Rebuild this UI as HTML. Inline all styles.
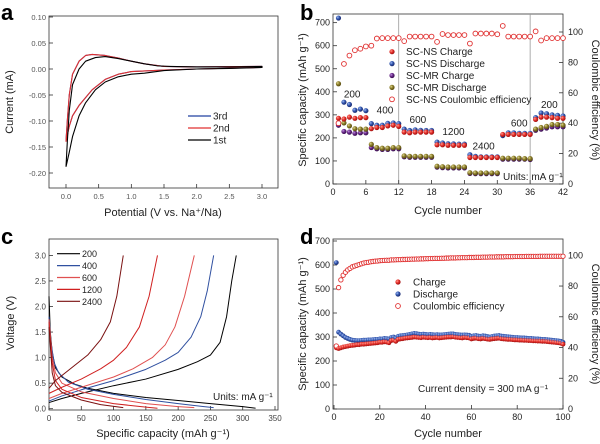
<!DOCTYPE html>
<html><head><meta charset="utf-8"><style>
html,body{margin:0;padding:0;background:#fff;width:600px;height:444px;overflow:hidden}
svg{display:block;font-family:"Liberation Sans",Arial,sans-serif}
</style></head><body>
<svg id="fig" width="600" height="444" viewBox="0 0 600 444" xmlns="http://www.w3.org/2000/svg">
<defs>
<radialGradient id="gRed" cx="35%" cy="35%" r="65%"><stop offset="0" stop-color="#ff9a90"/><stop offset="0.5" stop-color="#e5302a"/><stop offset="1" stop-color="#a01010"/></radialGradient>
<radialGradient id="gBlue" cx="35%" cy="35%" r="65%"><stop offset="0" stop-color="#a0b8f0"/><stop offset="0.5" stop-color="#3358b0"/><stop offset="1" stop-color="#1a2a70"/></radialGradient>
<radialGradient id="gPur" cx="35%" cy="35%" r="65%"><stop offset="0" stop-color="#c090e0"/><stop offset="0.5" stop-color="#6a2a8a"/><stop offset="1" stop-color="#3a1050"/></radialGradient>
<radialGradient id="gOl" cx="35%" cy="35%" r="65%"><stop offset="0" stop-color="#e0d890"/><stop offset="0.5" stop-color="#8b7d2a"/><stop offset="1" stop-color="#5a4d10"/></radialGradient>
</defs>
</svg>
<script>
// ---------- Panel a data (CV) ----------
const cvV1 = [0.0,0.02,0.05,0.1,0.2,0.3,0.45,0.6,0.8,1.0,1.2,1.4,1.6,2.0,2.5,3.0,3.0,2.5,2.0,1.5,1.2,1.0,0.8,0.6,0.45,0.3,0.2,0.1,0.05,0.0];
const cvI1 = [-0.188,-0.14,-0.08,-0.03,0.0,0.015,0.022,0.024,0.02,0.015,0.01,0.006,0.005,0.004,0.004,0.005,0.003,0.001,0.0,-0.003,-0.008,-0.01,-0.015,-0.025,-0.04,-0.065,-0.09,-0.13,-0.16,-0.188];
const cvV2 = [0.0,0.02,0.05,0.1,0.2,0.3,0.4,0.6,0.8,1.0,1.2,1.5,2.0,3.0,3.0,2.0,1.5,1.0,0.8,0.6,0.4,0.2,0.1,0.05,0.0];
const cvI2 = [-0.14,-0.1,-0.05,-0.01,0.015,0.026,0.028,0.026,0.021,0.015,0.01,0.005,0.004,0.005,0.003,0.0,-0.002,-0.005,-0.01,-0.02,-0.04,-0.07,-0.09,-0.11,-0.14];
const cvI3 = [-0.138,-0.099,-0.05,-0.01,0.015,0.026,0.028,0.026,0.021,0.015,0.01,0.005,0.004,0.005,0.003,0.0,-0.002,-0.005,-0.01,-0.02,-0.04,-0.07,-0.09,-0.11,-0.138];
const aXTicks = [0,0.5,1.0,1.5,2.0,2.5,3.0];
const aYTicks = [-0.20,-0.15,-0.10,-0.05,0.00,0.05,0.10];

// ---------- Panel b data (rate) ----------
const bCycles = Array.from({length:42},(_,i)=>i+1);
const nsCharge = [285,282,290,285,288,288,240,245,245,252,255,250,225,222,225,225,225,225,170,170,168,168,168,168,115,115,115,115,115,115,215,215,215,215,215,215,280,290,290,288,285,285];
const nsDischarge = [720,355,345,320,325,318,262,255,255,263,265,262,238,232,235,233,232,232,182,178,175,174,173,173,127,120,118,118,118,118,210,222,222,220,220,220,288,308,305,300,298,295];
const mrCharge = [255,228,225,220,222,222,158,153,150,150,153,153,118,116,116,116,116,116,73,71,70,70,70,70,46,45,45,45,45,45,108,108,108,108,108,106,233,238,243,248,248,248];
const mrDischarge = [435,265,252,240,238,238,172,158,155,155,158,158,122,120,120,120,120,120,77,75,74,74,74,74,49,48,48,48,48,48,112,112,112,112,110,110,238,245,250,258,258,255];
const nsCE = [40,79,84.5,88,89,90.5,91,95.7,96,96,96,96,94,97,97,97,97,97,93.5,98.7,98,98,98,98,92.4,99,99,99,99,98.5,104,97,97,97,97,97,100.4,94.4,96,96,96,96];
const bXTicks = [0,6,12,18,24,30,36,42];
const bYTicks = [0,100,200,300,400,500,600,700];
const bRTicks = [0,20,40,60,80,100];
const rateLabels = ["200","400","600","1200","2400","600","200"];
const rateLabelX = [3.5,9.5,15.5,22,27.5,34,39.5];
const rateLabelY = [375,305,265,213,150,250,330];

// ---------- Panel c data (voltage profiles) ----------
const cRates = ["200","400","600","1200","2400"];
const cChgCap = [[0,20,50,100,150,200,230,250,265,275,283,290],[0,20,50,100,150,180,200,220,235,245,255],[0,20,50,100,130,160,180,195,210,225],[0,20,50,80,100,120,140,155,168],[0,10,30,60,80,95,105,115]];
const cChgV = [[0.12,0.2,0.3,0.45,0.58,0.77,0.92,1.05,1.3,1.8,2.5,3.0],[0.15,0.25,0.37,0.55,0.77,0.95,1.1,1.4,1.8,2.3,3.0],[0.2,0.3,0.42,0.62,0.78,1.0,1.25,1.6,2.2,3.0],[0.3,0.42,0.58,0.78,0.95,1.2,1.6,2.2,3.0],[0.4,0.55,0.75,1.05,1.35,1.7,2.2,3.0]];
const cDisCap = [[0,2,5,10,20,40,60,100,150,200,250,300,320],[0,3,8,15,30,60,100,150,200,240,255],[0,5,10,20,50,100,150,200,225],[0,5,10,20,50,100,150,168],[0,5,10,20,50,80,115]];
const cDisV = [[2.2,1.5,1.1,0.8,0.62,0.48,0.4,0.3,0.22,0.16,0.1,0.04,0.01],[1.8,1.3,0.9,0.7,0.52,0.38,0.28,0.18,0.1,0.04,0.02],[1.75,1.0,0.7,0.5,0.33,0.2,0.1,0.04,0.02],[1.7,0.9,0.55,0.38,0.22,0.1,0.03,0.01],[1.6,0.7,0.45,0.32,0.17,0.08,0.02]];
const cColors = ["#000000","#3050a0","#e05050","#d02020","#7a1010"];
const cXTicks = [0,50,100,150,200,250,300,350];
const cYTicks = [0,0.5,1.0,1.5,2.0,2.5,3.0];

// ---------- Panel d data (cycling) ----------
const dCharge = [255,252,255,258,260,262,264,265,266,268,268,270,270,271,272,273,274,275,276,278,278,280,279,276,285,287,282,290,292,293,295,296,297,298,300,299,298,297,299,298,297,298,296,297,298,296,297,298,299,300,300,301,299,298,297,296,298,297,296,292,294,295,293,292,294,293,291,290,292,293,294,295,293,292,291,290,290,289,288,288,287,287,286,286,285,285,284,284,283,283,282,282,281,280,279,278,277,276,274,270];
const dDischarge = [610,320,312,305,298,294,290,287,286,285,285,286,287,287,288,288,289,290,290,292,292,294,293,292,298,300,296,303,305,306,307,309,311,313,315,314,312,311,312,311,310,311,310,309,310,309,309,310,311,312,313,313,311,310,309,308,309,308,307,303,305,306,304,303,305,304,302,300,302,304,305,306,304,303,302,301,300,299,298,298,297,296,296,295,294,294,293,292,292,291,290,290,289,288,287,286,285,284,282,278];
const dCE = [41,79,84,87,89,90.5,91.5,92.5,93,93.5,94,94.5,95,95.3,95.5,95.8,96,96.2,96.3,96.5,96.6,96.7,96.8,96.8,97,97,97.1,97.2,97.2,97.3,97.3,97.4,97.4,97.5,97.5,97.6,97.6,97.7,97.7,97.8,97.8,97.9,97.9,98,98,98,98.1,98.1,98.2,98.2,98.3,98.3,98.3,98.4,98.4,98.5,98.5,98.5,98.6,98.6,98.6,98.7,98.7,98.7,98.8,98.8,98.8,98.9,98.9,98.9,99,99,99,99,99.1,99.1,99.1,99.1,99.2,99.2,99.2,99.2,99.2,99.3,99.3,99.3,99.3,99.3,99.3,99.4,99.4,99.4,99.4,99.4,99.4,99.4,99.4,99.4,99.4,99.4];
const dXTicks = [0,20,40,60,80,100];
const dYTicks = [0,100,200,300,400,500,600,700];
const dRTicks = [0,20,40,60,80,100];

const NS = "http://www.w3.org/2000/svg";
const svg = document.getElementById('fig');
function mk(tag, attrs, parent, text){
  const e = document.createElementNS(NS, tag);
  for (const k in attrs) e.setAttribute(k, attrs[k]);
  if (text !== undefined) e.textContent = text;
  (parent || svg).appendChild(e);
  return e;
}

const ax = v => 66 + v*(196/3), ay = i => 69 - i*520;
const bx = c => 333 + c*(230/42), byL = v => 184 - v*0.2305, byR = e => 184 - e*1.52;
const cx = q => 49 + q*(226/350), cy = v => 408.7 - v*51.1;
const dx = c => 334 + c*2.29, dyL = v => 409 - v*0.24, dyR = e => 409 - e*1.537;

function frame(x1,y1,x2,y2,name){
  const r = mk('rect',{x:x1,y:y1,width:x2-x1,height:y2-y1,fill:'none',stroke:'#333','stroke-width':0.8});
  
  
}
function label(x,y,txt,size,anchor,name,opts){
  const t = mk('text',Object.assign({x:x,y:y,'font-size':size,'text-anchor':anchor||'middle',fill:'#222'},opts||{}),svg,txt);
  
  
  return t;
}
function xTicks(vals, sx, yb, fmt, fs, name, col){
  vals.forEach(v=>{
    const l = mk('line',{x1:sx(v),x2:sx(v),y1:yb,y2:yb-4,stroke:'#333','stroke-width':0.8});
    
    
    label(sx(v), yb+11, fmt(v), fs, 'middle', name+'-label', col?{fill:col}:null);
  });
}
function yTicks(vals, sy, xl, fmt, fs, name, side, col){
  vals.forEach(v=>{
    const dir = side==='right' ? -1 : 1;
    const l = mk('line',{x1:xl,x2:xl+4*dir,y1:sy(v),y2:sy(v),stroke:'#333','stroke-width':0.8});
    
    
    label(side==='right'? xl+5 : xl-3, sy(v)+3, fmt(v), fs, side==='right'?'start':'end', name+'-label', col?{fill:col}:null);
  });
}
function poly(xs, ys, sx, sy, color, w, name){
  const pts = xs.map((v,i)=>sx(v).toFixed(2)+','+sy(ys[i]).toFixed(2)).join(' ');
  const p = mk('polyline',{points:pts,fill:'none',stroke:color,'stroke-width':w,'stroke-linejoin':'round'});
  
  
}
function dot(x,y,r,fill,name){
  const c = mk('circle',{cx:x,cy:y,r:r,fill:fill});
  
  
}
function ring(x,y,r,name){
  const c = mk('circle',{cx:x,cy:y,r:r,fill:'#fff',stroke:'#e03030','stroke-width':0.9});
  
  
}

label(1,20,'a',22,'start','panel-label-a',{'font-weight':'bold',fill:'#000'});
label(300,20,'b',22,'start','panel-label-b',{'font-weight':'bold',fill:'#000'});
label(1,244,'c',22,'start','panel-label-c',{'font-weight':'bold',fill:'#000'});
label(300,244,'d',22,'start','panel-label-d',{'font-weight':'bold',fill:'#000'});

// ===== Panel a =====
frame(49,16,278,188,'cv-plot-frame');
xTicks(aXTicks, ax, 188, v=>v.toFixed(1), 7.5, 'cv-x-axis', '#555');
yTicks(aYTicks, ay, 49, v=>v.toFixed(2), 7.5, 'cv-y-axis', null, '#555');
poly(cvV2, cvI3, ax, ay, '#2040a0', 1.1, 'cv-curve-3rd');
poly(cvV2, cvI2, ax, ay, '#e03030', 1.1, 'cv-curve-2nd');
poly(cvV1, cvI1, ax, ay, '#000', 1.1, 'cv-curve-1st');
label(163,216,'Potential (V vs. Na⁺/Na)',11,'middle','cv-x-axis-title');
label(13,102,'Current (mA)',11,'middle','cv-y-axis-title',{transform:'rotate(-90 13 102)'});
[['3rd','#2040a0',116],['2nd','#e03030',128],['1st','#000',140]].forEach(e=>{
  const l = mk('line',{x1:188,x2:211,y1:e[2],y2:e[2],stroke:e[1],'stroke-width':1.3});
  
  
  label(213,e[2]+3.5,e[0],10,'start','cv-legend-label');
});

// ===== Panel b =====
frame(333,14,563,184,'rate-plot-frame');
[12,36].forEach(c=>{
  const l = mk('line',{x1:bx(c),x2:bx(c),y1:14,y2:184,stroke:'#999','stroke-width':0.8});
  
  
});
xTicks(bXTicks, bx, 184, v=>String(v), 9, 'rate-x-axis');
yTicks(bYTicks, byL, 333, v=>String(v), 9, 'rate-left-axis');
yTicks(bRTicks, byR, 563, v=>String(v), 9, 'rate-right-axis', 'right');
bCycles.forEach((c,i)=>{
  dot(bx(c), byL(mrCharge[i]), 2.6, 'url(#gPur)', 'mr-charge-point');
  dot(bx(c), byL(mrDischarge[i]), 2.6, 'url(#gOl)', 'mr-discharge-point');
  dot(bx(c), byL(nsDischarge[i]), 2.6, 'url(#gBlue)', 'ns-discharge-point');
  dot(bx(c), byL(nsCharge[i]), 2.6, 'url(#gRed)', 'ns-charge-point');
  ring(bx(c), byR(nsCE[i]), 2.4, 'ns-ce-point');
});
rateLabels.forEach((t,i)=>label(bx(rateLabelX[i]), byL(rateLabelY[i]), t, 10, 'middle', 'rate-current-label'));
label(503,180,'Units: mA g⁻¹',10,'start','rate-units-label');
label(448,214,'Cycle number',11,'middle','rate-x-axis-title');
label(306,100,'Specific capacity (mAh g⁻¹)',11,'middle','rate-y-axis-title',{transform:'rotate(-90 306 100)'});
label(592,100,'Coulombic efficiency (%)',11,'middle','rate-right-axis-title',{transform:'rotate(90 592 100)'});
[['SC-NS Charge','url(#gRed)'],['SC-NS Discharge','url(#gBlue)'],['SC-MR Charge','url(#gPur)'],['SC-MR Discharge','url(#gOl)'],['SC-NS Coulombic efficiency',null]].forEach((e,i)=>{
  const y = 51.7 + i*11.9;
  if (e[1]) dot(392, y, 2.6, e[1], 'rate-legend-marker'); else ring(392, y, 2.4, 'rate-legend-marker');
  label(406, y+3.5, e[0], 10, 'start', 'rate-legend-label');
});

// ===== Panel c =====
frame(49,239,278,410,'profile-plot-frame');
xTicks(cXTicks, cx, 410, v=>String(v), 8, 'profile-x-axis', '#444');
yTicks(cYTicks, cy, 49, v=>v.toFixed(1), 8, 'profile-y-axis', null, '#444');
cRates.forEach((r,i)=>{
  poly(cChgCap[i], cChgV[i], cx, cy, cColors[i], 1, 'charge-curve-'+r);
  poly(cDisCap[i], cDisV[i], cx, cy, cColors[i], 1, 'discharge-curve-'+r);
  const y = 253.7 + i*11.9;
  const l = mk('line',{x1:57,x2:80,y1:y,y2:y,stroke:cColors[i],'stroke-width':1.2});
  
  
  label(82, y+3.5, r, 9, 'start', 'profile-legend-label');
});
label(213,400,'Units: mA g⁻¹',10,'start','profile-units-label');
label(163,437,'Specific capacity (mAh g⁻¹)',11,'middle','profile-x-axis-title');
label(14,323,'Voltage (V)',11,'middle','profile-y-axis-title',{transform:'rotate(-90 14 323)'});

// ===== Panel d =====
frame(333,239,563,409,'cycling-plot-frame');
xTicks(dXTicks, dx, 409, v=>String(v), 9, 'cycling-x-axis');
yTicks(dYTicks, dyL, 333, v=>String(v), 9, 'cycling-left-axis');
yTicks(dRTicks, dyR, 563, v=>String(v), 9, 'cycling-right-axis', 'right');
dCharge.forEach((v,i)=>{
  const c = i+1;
  dot(dx(c), dyL(dDischarge[i]), 2.4, 'url(#gBlue)', 'cycling-discharge-point');
  dot(dx(c), dyL(v), 2.4, 'url(#gRed)', 'cycling-charge-point');
  ring(dx(c), dyR(dCE[i]), 2.2, 'cycling-ce-point');
});
label(418,392,'Current density = 300 mA g⁻¹',10,'start','cycling-current-label');
label(448,437,'Cycle number',11,'middle','cycling-x-axis-title');
label(306,324,'Specific capacity (mAh g⁻¹)',11,'middle','cycling-y-axis-title',{transform:'rotate(-90 306 324)'});
label(592,324,'Coulombic efficiency (%)',11,'middle','cycling-right-axis-title',{transform:'rotate(90 592 324)'});
[['Charge','url(#gRed)'],['Discharge','url(#gBlue)'],['Coulombic efficiency',null]].forEach((e,i)=>{
  const y = 282 + i*12;
  if (e[1]) dot(398, y, 2.6, e[1], 'cycling-legend-marker'); else ring(398, y, 2.4, 'cycling-legend-marker');
  label(413, y+3.5, e[0], 10, 'start', 'cycling-legend-label');
});
</script>
</body></html>
